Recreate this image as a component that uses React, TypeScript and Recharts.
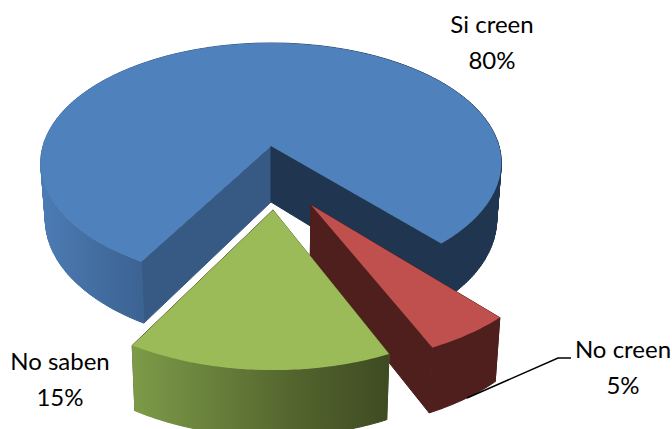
import { PieChart, Pie } from 'recharts';

const categories = ['Si creen', 'No creen', 'No saben'];
const shares = [80, 5, 15];
const data = categories.map((name, i) => ({ name, value: shares[i] }));

// Pie plane seen from above, one unit = the pie radius
const TILT = 0.515;
const PERSPECTIVE = 0.14;
const DEPTH = 56;
const DEPTH_SHRINK = 0.98;

const EXPLODE = [
  [0, 0],
  [0.164, 0.47],
  [0.008, 0.506],
];

const TOP_COLORS = ['#4f81bd', '#c0504d', '#9bbb59'];
const START_FACE_COLORS = ['#375a85', '#4f1f1d', '#5f7636'];
const END_FACE_COLORS = ['#1f3550', '#4f1f1d', '#3e4b22'];
const WALL_STOPS = [
  [['0', '#4c7bb4'], ['0.22', '#3c6392'], ['0.8', '#1f3550'], ['1', '#1f3550']],
  [['0', '#4f1f1d'], ['1', '#4f1f1d']],
  [['0', '#7d9b48'], ['0.65', '#52632d'], ['1', '#3e4b22']],
];

const LABEL_X = [492, 623, 60];
const LABEL_Y = [33, 358, 370];
const LINE_GAP = 36;
const LEADER = [[467, 398], [558, 358], [571, 358]];

const FONT = 'Lato, sans-serif';
const SEAM_STROKE = 1;

type Pt = [number, number];

function toPath(points: Pt[]) {
  return 'M' + points.map((p) => `${p[0].toFixed(1)},${p[1].toFixed(1)}`).join('L') + 'Z';
}

// Outer wall as one quad per step, all wound the same way so overlaps never cancel out
function wallPath(topRim: Pt[], bottomRim: Pt[]) {
  let d = '';
  for (let i = 0; i < topRim.length - 1; i++) {
    const quad: Pt[] = [topRim[i], topRim[i + 1], bottomRim[i + 1], bottomRim[i]];
    let area = 0;
    quad.forEach((p, j) => {
      const q = quad[(j + 1) % 4];
      area += p[0] * q[1] - q[0] * p[1];
    });
    d += toPath(area < 0 ? quad.reverse() : quad);
  }
  return d;
}

function Slice3D(props: any) {
  const { cx, cy, outerRadius: R, startAngle, endAngle, index } = props;
  const [u0, v0] = EXPLODE[index];

  const planeTop = (u: number, v: number): Pt => {
    const s = 1 / (1 - PERSPECTIVE * v);
    return [cx + R * u * s, cy + R * TILT * v * s];
  };
  const planeBottom = (u: number, v: number): Pt => {
    const s = 1 / (1 - PERSPECTIVE * v);
    const [x, y] = planeTop(u, v);
    return [cx + (x - cx) * DEPTH_SHRINK, y + DEPTH * (1 + (s - 1) * 0.7)];
  };
  const rim = (angle: number): Pt => {
    const rad = (angle * Math.PI) / 180;
    return [u0 + Math.cos(rad), v0 - Math.sin(rad)];
  };

  const steps = Math.max(2, Math.ceil(Math.abs(endAngle - startAngle)));
  const arc: Pt[] = [];
  for (let i = 0; i <= steps; i++) {
    arc.push(rim(startAngle + ((endAngle - startAngle) * i) / steps));
  }

  const apexTop = planeTop(u0, v0);
  const apexBottom = planeBottom(u0, v0);
  const topRim = arc.map((p) => planeTop(p[0], p[1]));
  const bottomRim = arc.map((p) => planeBottom(p[0], p[1]));
  const last = arc.length - 1;
  const gradId = `wall-${index}`;
  const wallXs = [...topRim, ...bottomRim].map((p) => p[0]);

  // strokes in the fill colour close the hairline seams between faces
  return (
    <g>
      <defs>
        <linearGradient
          id={gradId}
          gradientUnits="userSpaceOnUse"
          x1={Math.min(...wallXs)}
          y1="0"
          x2={Math.max(...wallXs)}
          y2="0"
        >
          {WALL_STOPS[index].map(([offset, color]) => (
            <stop key={offset} offset={offset} stopColor={color} />
          ))}
        </linearGradient>
      </defs>
      <path
        d={toPath([apexTop, topRim[0], bottomRim[0], apexBottom])}
        fill={START_FACE_COLORS[index]}
        stroke={START_FACE_COLORS[index]}
        strokeWidth={SEAM_STROKE}
      />
      <path
        d={toPath([apexTop, topRim[last], bottomRim[last], apexBottom])}
        fill={END_FACE_COLORS[index]}
        stroke={END_FACE_COLORS[index]}
        strokeWidth={SEAM_STROKE}
      />
      <path
        d={wallPath(topRim, bottomRim)}
        fill={`url(#${gradId})`}
        stroke={`url(#${gradId})`}
        strokeWidth={SEAM_STROKE}
      />
      <path d={toPath([apexTop, ...topRim])} fill={TOP_COLORS[index]} />
    </g>
  );
}

function SliceLabel(props: any) {
  const { index, name, value } = props;
  return (
    <g>
      {index === 1 && (
        <polyline points={LEADER.map((p) => p.join(',')).join(' ')} fill="none" stroke="#000" strokeWidth={1.5} />
      )}
      <text x={LABEL_X[index]} y={LABEL_Y[index]} textAnchor="middle" fontFamily={FONT} fontSize={24} fill="#000">
        {name}
      </text>
      <text x={LABEL_X[index]} y={LABEL_Y[index] + LINE_GAP} textAnchor="middle" fontFamily={FONT} fontSize={24} fill="#000">
        {value}%
      </text>
    </g>
  );
}

export default function App() {
  return (
    <div style={{ position: 'absolute', left: 0, top: 0 }}>
      <PieChart width={672} height={429} margin={{ top: 0, right: 0, bottom: 0, left: 0 }}>
        <Pie
          data={data}
          dataKey="value"
          nameKey="name"
          cx={271}
          cy={146}
          innerRadius={0}
          outerRadius={228}
          startAngle={-120}
          endAngle={-480}
          stroke="none"
          shape={Slice3D}
          label={SliceLabel}
          labelLine={false}
          isAnimationActive={false}
        />
      </PieChart>
    </div>
  );
}
